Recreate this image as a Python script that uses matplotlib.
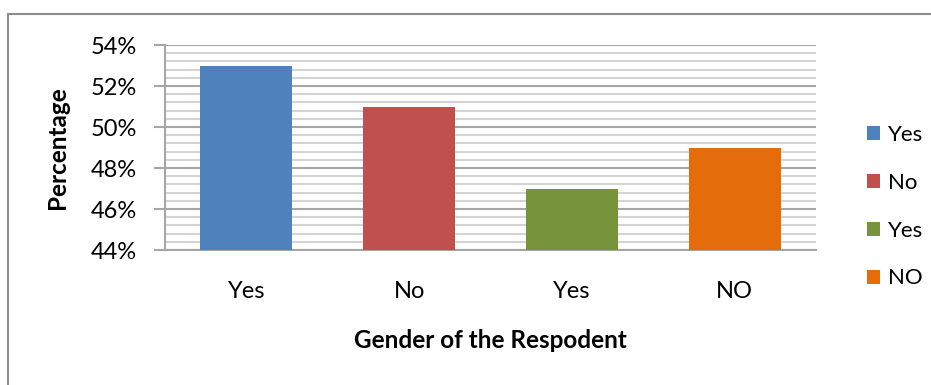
import matplotlib
matplotlib.use("Agg")
import matplotlib.pyplot as plt
from matplotlib.patches import Rectangle
from matplotlib.ticker import MultipleLocator, PercentFormatter

categories = ["Yes", "No", "Yes", "NO"]
percentages = [53, 51, 47, 49]
bar_colors = ["#4F81BD", "#C0504D", "#77933C", "#E46C0A"]

plt.rcParams["font.family"] = ["Lato", "DejaVu Sans"]

W, H = 931, 385
fig = plt.figure(figsize=(W / 100, H / 100), dpi=100)
fig.patch.set_facecolor("white")

# outer chart frame (runs off the right and bottom edges)
fig.patches.append(Rectangle((8 / W, -0.2), 1.2, 1.2 - 14 / H, transform=fig.transFigure,
                             fill=False, edgecolor="#8c8c8c", linewidth=1.5))

ax = fig.add_axes([165 / W, 1 - 250 / H, (816 - 165) / W, (250 - 45) / H])

x = range(len(categories))
bars = ax.bar(x, percentages, width=0.565, color=bar_colors, zorder=3)

ax.set_xlim(-0.5, len(categories) - 0.5)
ax.set_ylim(44, 54)
ax.yaxis.set_major_locator(MultipleLocator(2))
ax.yaxis.set_minor_locator(MultipleLocator(0.4))
ax.yaxis.set_major_formatter(PercentFormatter(decimals=0))

ax.grid(axis="y", which="major", color="#a6a6a6", linewidth=1.5, zorder=0)
ax.grid(axis="y", which="minor", color="#d4d4d4", linewidth=1.5, zorder=0)
ax.set_axisbelow(True)

for side in ["top", "right"]:
    ax.spines[side].set_visible(False)
ax.spines["left"].set_color("#a6a6a6")
ax.spines["left"].set_linewidth(1.5)
ax.spines["bottom"].set_color("#a6a6a6")
ax.spines["bottom"].set_linewidth(1.5)

ax.tick_params(axis="y", which="major", direction="out", length=8, width=1.5,
               color="#a6a6a6", labelsize=17, pad=12)
ax.tick_params(axis="y", which="minor", length=0)
ax.tick_params(axis="x", length=0, labelsize=17, pad=22)
ax.set_xticks(list(x))
ax.set_xticklabels(categories)

ax.set_ylabel("Percentage", fontsize=17.5, fontweight="bold", labelpad=16)
ax.set_xlabel("Gender of the Respodent", fontsize=17.5, fontweight="bold", labelpad=20)

fig.legend(bars, categories, loc="upper left", bbox_to_anchor=(856 / W, 1 - 114 / H),
           frameon=False, fontsize=16, handlelength=0.6, handleheight=0.6,
           handletextpad=0.35, labelspacing=1.25, borderpad=0)

fig.savefig("out.png", dpi=100)
